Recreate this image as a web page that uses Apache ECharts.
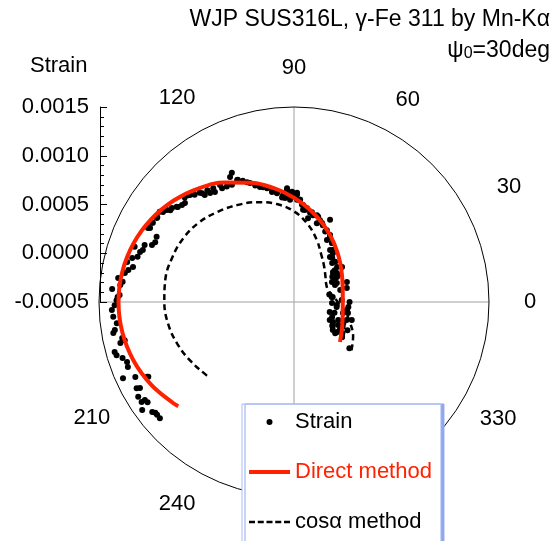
<!DOCTYPE html>
<html>
<head>
<meta charset="utf-8">
<script src="https://cdn.jsdelivr.net/npm/echarts@6/dist/echarts.min.js"></script>
<style>
html,body{margin:0;padding:0;background:#fff;}
#chart{width:556px;height:541px;}
</style>
</head>
<body>
<div id="chart"></div>
<script>
// ---------- data ----------
const titleText = 'WJP SUS316L, \u03b3-Fe 311 by Mn-K\u03b1';
const radialTicks = [-0.0005, 0.0000, 0.0005, 0.0010, 0.0015];
const angleLabels = [0, 30, 60, 90, 120, 210, 240, 330];

const directAngle = [319,330,340,350,0,10,20,30,40,50,60,70,80,90,100,110,120,130,140,150,160,170,180,190,200,210,220,222];
const directStrain = [0.000125,0.000067,0.00003,0.0000076,0,0.0000076,0.00003,0.000067,0.000119,0.000185,0.000265,0.000357,0.000459,0.00057,0.000685,0.000802,0.000915,0.001021,0.001115,0.001193,0.001252,0.001288,0.0013,0.001288,0.001252,0.001193,0.001115,0.001097];

const cosAngle = [320,330,340,350,0,10,20,30,40,50,60,70,80,90,100,110,120,130,140,150,160,170,180,190,200,210,220,222];
const cosStrain = [0.00027,0.0002,0.00011,0.00003,-0.00005,-0.0001,-0.00013,-0.00012,-0.00008,-0.00002,0.00006,0.00018,0.00031,0.00043,0.00052,0.00059,0.00065,0.00071,0.00077,0.00081,0.00083,0.00084,0.00083,0.00081,0.00077,0.00072,0.00067,0.00066];

const strainAngle = [
220.9,219.5,217.8,215.4,213.3,211.3,208.7,209.2,207,205.3,204,201.4,199.8,198.1,196.7,195.6,193.3,192.7,191.8,189.7,188.9,186.8,184.7,182.5,181,179.4,177.7,207.2,213.3,214.4,218.6,
178.4,175.9,174.4,173.3,172.2,170.3,169.1,167.7,166.5,164.8,160.9,163.9,162,161,159.1,158.1,156.7,154.6,153.1,150.7,148.2,146.1,144.1,142.4,140.9,139.1,137.8,134.7,132.8,130.2,
115,112.9,110.3,107.5,105.1,101.1,122.3,125.4,127.8,130.8,134.2,136.3,140.7,143.4,145.5,148.5,150.9,152.8,
132.8,129.8,127.6,125.7,122.3,120.2,117.9,115.7,117.1,114.7,111.4,108.4,106.5,103.3,101.3,98.9,93.5,92.1,90.5,88.4,86.6,92.2,96.5,84.4,80.5,
93.6,91,88.4,94.9,86.6,84.7,83.2,79.8,77.7,74.2,73.8,70.5,66.3,66.1,61.7,62,57.2,55.3,51.5,49.2,44.3,39.1,36.1,37.6,31.5,30.3,
98.8,95.9,92.2,88.3,85.3,82.1,78.7,75.2,72.4,69.4,65.4,61,57.2,53.1,
51.3,45.7,38,34,33.3,23.8,14.6,7.5,2.4,353.4,351.4,338.5,337.8,336.8,327.3,328.7,322.9,323.9,
36.6,30.2,27.8,22.5,12,7.3,20.7,14.8,358.5,356,0,354.7,344.5,345,347.3,348.5,333.4,332.9,341.2,342.8,332.4,333,324.3,325.1,327.1,328.8,323.9,332.2,320.1
];
const strainValue = [
0.00132,0.00132,0.00134,0.00141,0.00133,0.00137,0.00134,0.00131,0.00119,0.0013,0.00142,0.00133,0.00132,0.00135,0.0014,0.00141,0.00133,0.00128,0.0013,0.00138,0.00136,0.00133,0.00136,0.00137,0.00134,0.00132,0.00129,0.00118,0.00137,0.00132,0.00132,
0.00131,0.00137,0.00129,0.00127,0.00132,0.00126,0.00123,0.00119,0.00126,0.00122,0.00123,0.00117,0.00116,0.00114,0.00114,0.00107,0.00105,0.00106,0.00118,0.00116,0.00115,0.00116,0.00111,0.00108,0.00105,0.00102,0.00101,0.00104,0.001,0.00096,
0.00088,0.00085,0.0008,0.00076,0.00072,0.00067,0.00092,0.00093,0.00095,0.00098,0.00103,0.00105,0.00104,0.00108,0.00113,0.00115,0.00117,0.00116,
0.00102,0.00093,0.00091,0.00089,0.00088,0.00087,0.00086,0.00097,0.00094,0.00088,0.00082,0.00076,0.00073,0.0007,0.00065,0.00063,0.00067,0.00062,0.0006,0.00062,0.00055,0.00055,0.00058,0.00045,0.00037,
0.00065,0.00063,0.0006,0.00057,0.00055,0.0005,0.00045,0.00043,0.00041,0.00041,0.00034,0.00036,0.00042,0.00029,0.00028,0.00022,0.00022,0.00015,0.00014,0.0001,0.00009,0.00007,0.00011,0.000005,0.00003,-0.00001,
0.00064,0.0006,0.00057,0.00055,0.0005,0.00047,0.00044,0.00042,0.00038,0.00034,0.00031,0.00026,0.00022,0.00017,
0.00009,0.00006,0.00003,0.00003,-0.00003,-0.00002,-0.00001,-0.00011,-0.00001,-0.00006,0.00005,-0.00008,-0.00001,0.00005,-0.00003,0.00005,0.00003,0.00011,
0,0.00001,-0.00006,-0.000045,-0.00013,-0.0001,0.00008,0.00006,-0.00011,-0.00006,0.00007,0.00006,-0.00012,-0.00007,0.000015,0.000065,-0.00009,-0.00005,0.00007,0.00012,0.00001,0.00006,-0.00001,0.00004,0.00009,-0.00004,0.00011,0.00012,0.00024
];

// ---------- chart ----------
const FONT = '"Liberation Sans", Arial, Helvetica, sans-serif';
const RED = '#ff2200';
const chart = echarts.init(document.getElementById('chart'), null, {renderer: 'canvas'});

const labelPad = {
  0: [0, 0, 0, 35], 30: [0, 0, 7, 34], 60: [0, 0, 22, 4], 90: [0, 0, 28, 0],
  120: [0, 1, 24, 0], 210: [7, 15, 0, 0], 240: [22, 1, 0, 0], 330: [8, 0, 0, 17]
};
const rich = {};
angleLabels.forEach(a => {
  rich['a' + a] = {fontSize: 22, fontFamily: FONT, color: '#000', padding: labelPad[a]};
});

const option = {
  backgroundColor: '#fff',
  animation: false,
  title: [
    {text: titleText, right: 6, top: 8, padding: 0,
     textStyle: {fontSize: 23, fontWeight: 'normal', color: '#000', fontFamily: FONT}},
    {text: '{a|\u03c8}{b|0}{a|=30deg}', right: 6, top: 35, padding: 0,
     textStyle: {fontSize: 23, fontWeight: 'normal', color: '#000', fontFamily: FONT,
       rich: {a: {fontSize: 23, fontFamily: FONT, color: '#000', verticalAlign: 'bottom', lineHeight: 27},
              b: {fontSize: 16, fontFamily: FONT, color: '#000', verticalAlign: 'bottom', lineHeight: 16}}}},
    {text: 'Strain', left: 30, top: 55, padding: 0,
     textStyle: {fontSize: 22, fontWeight: 'normal', color: '#000', fontFamily: FONT}}
  ],
  grid: {left: 100, top: 107, width: 10, height: 195},
  xAxis: {type: 'value', show: false, min: 0, max: 1},
  yAxis: {
    type: 'value', min: radialTicks[0], max: radialTicks[radialTicks.length - 1], interval: 0.0005,
    position: 'left',
    axisLine: {show: true, lineStyle: {color: '#000', width: 1}},
    axisTick: {show: true, inside: true, length: 7, lineStyle: {color: '#000'}},
    minorTick: {show: true, splitNumber: 5, length: 4, lineStyle: {color: '#000'}},
    splitLine: {show: false},
    axisLabel: {margin: 11, fontSize: 22, color: '#000', fontFamily: FONT,
      formatter: v => v.toFixed(4)}
  },
  polar: {center: [294, 302], radius: 195},
  angleAxis: {
    type: 'value', min: 0, max: 360, interval: 30, startAngle: 0, clockwise: false,
    axisLine: {show: true, lineStyle: {color: '#000', width: 1}},
    axisTick: {show: false},
    splitLine: {show: true, lineStyle: {color: ['#a0a0a0', 'rgba(0,0,0,0)', 'rgba(0,0,0,0)'], width: 1}},
    axisLabel: {margin: 0, fontSize: 22, color: '#000', fontFamily: FONT,
      formatter: v => angleLabels.indexOf(v) >= 0 ? '{a' + v + '|' + v + '}' : '',
      rich: rich}
  },
  radiusAxis: {
    type: 'value', min: radialTicks[0], max: radialTicks[radialTicks.length - 1],
    axisLine: {show: false}, axisTick: {show: false}, axisLabel: {show: false}, splitLine: {show: false}
  },
  legend: {
    orient: 'vertical', left: 242, top: 404, height: 200, padding: [7, 9, 30, 7],
    itemGap: 28, itemWidth: 41, itemHeight: 6, selectedMode: false,
    backgroundColor: '#fff', borderColor: '#a9bcf3', borderWidth: 1,
    shadowColor: '#8fa7ee', shadowOffsetX: 3, shadowOffsetY: 0, shadowBlur: 0,
    textStyle: {fontSize: 22, color: '#000', fontFamily: FONT},
    data: [
      {name: 'Strain', icon: 'circle', itemStyle: {color: '#000', opacity: 1}},
      {name: 'Direct method', icon: 'path://M0 0H41V4H0Z', itemStyle: {color: RED}, textStyle: {color: RED}},
      {name: 'cos\u03b1 method', icon: 'path://M0 0h6v2.5h-6zM8.75 0h6v2.5h-6zM17.5 0h6v2.5h-6zM26.25 0h6v2.5h-6zM35 0h6v2.5h-6z', itemStyle: {color: '#000'}}
    ]
  },
  series: [
    {name: 'Strain', type: 'scatter', coordinateSystem: 'polar', symbol: 'circle', symbolSize: 6,
     itemStyle: {color: '#000', opacity: 1}, z: 2,
     data: strainAngle.map((a, i) => [strainValue[i], a])},
    {name: 'cos\u03b1 method', type: 'line', coordinateSystem: 'polar', showSymbol: false, symbol: 'none',
     smooth: 0.4, lineStyle: {color: '#000', width: 2.5, type: [6, 4]}, itemStyle: {color: '#000'}, z: 3,
     data: cosAngle.map((a, i) => [cosStrain[i], a])},
    {name: 'Direct method', type: 'line', coordinateSystem: 'polar', showSymbol: false, symbol: 'none',
     smooth: 0.4, lineStyle: {color: RED, width: 4}, itemStyle: {color: RED}, z: 4,
     data: directAngle.map((a, i) => [directStrain[i], a])}
  ]
};
chart.setOption(option);
</script>
</body>
</html>
